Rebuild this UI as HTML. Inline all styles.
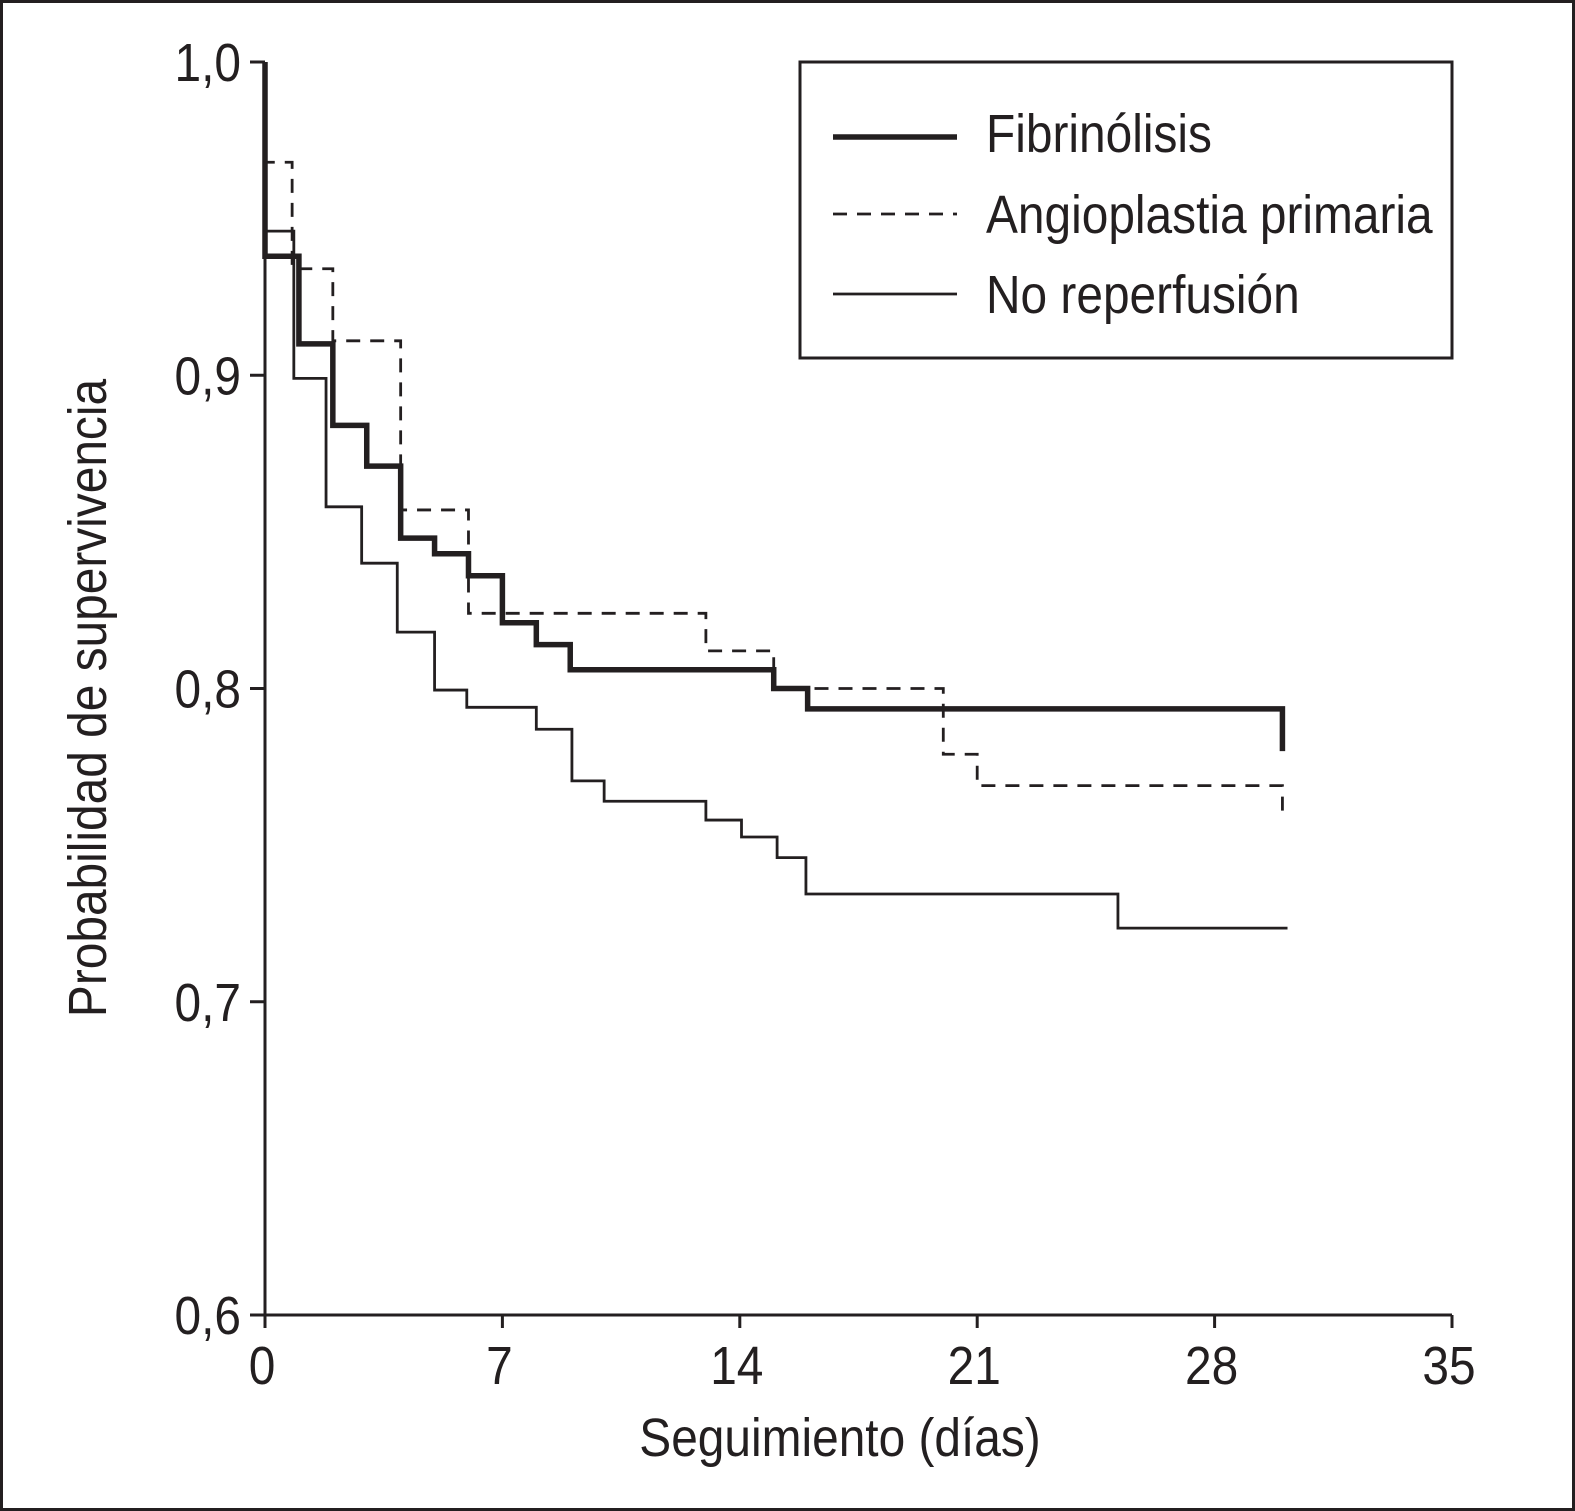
<!DOCTYPE html>
<html><head><meta charset="utf-8"><style>
html,body{margin:0;padding:0;background:#fff}
svg{display:block}
text{font-family:"Liberation Sans",sans-serif;fill:#231f20}
</style></head><body>
<svg id="chart" width="1575" height="1511" viewBox="0 0 1575 1511" xmlns="http://www.w3.org/2000/svg">
<rect x="1.5" y="1.5" width="1572" height="1508" fill="#fff" stroke="#231f20" stroke-width="3"/>
<g id="axes"></g>
<g id="series"></g>
<g>
<rect x="800" y="62" width="652" height="296" fill="#fff" stroke="#231f20" stroke-width="3"/>
<line x1="833" y1="137" x2="957" y2="137" stroke="#231f20" stroke-width="5.5"/>
<line x1="833" y1="214" x2="957" y2="214" stroke="#231f20" stroke-width="2.8" stroke-dasharray="14,10"/>
<line x1="833" y1="294" x2="957" y2="294" stroke="#231f20" stroke-width="2.8"/>
<text transform="translate(986,152) scale(0.886,1)" font-size="54">Fibrinólisis</text>
<text transform="translate(986,233) scale(0.886,1)" font-size="54">Angioplastia primaria</text>
<text transform="translate(986,313) scale(0.886,1)" font-size="54">No reperfusión</text>
</g>
<text transform="translate(840,1456) scale(0.886,1)" font-size="54" text-anchor="middle">Seguimiento (días)</text>
<text transform="translate(106,698) rotate(-90) scale(0.886,1)" font-size="54" text-anchor="middle">Probabilidad de supervivencia</text>
</svg>
<script>
const xTicks = [0, 7, 14, 21, 28, 35];
const yTicks = [0.6, 0.7, 0.8, 0.9, 1.0];
const yTickLabels = ["0,6", "0,7", "0,8", "0,9", "1,0"];
const fibTimes = [0, 1, 2, 3, 4, 5, 6, 7, 8, 9, 15, 16, 30];
const fibValues = [0.938, 0.910, 0.884, 0.871, 0.848, 0.843, 0.836, 0.821, 0.814, 0.806, 0.800, 0.7935, 0.780];
const angTimes = [0, 0.8, 2, 4, 6, 13, 15, 20, 21, 30];
const angValues = [0.968, 0.934, 0.911, 0.857, 0.824, 0.812, 0.800, 0.779, 0.769, 0.760];
const noTimes = [0, 0.85, 1.8, 2.85, 3.9, 5, 5.95, 8, 9.05, 10, 13, 14.05, 15.1, 15.95, 25.15];
const noValues = [0.946, 0.899, 0.858, 0.840, 0.818, 0.7995, 0.794, 0.787, 0.7705, 0.764, 0.758, 0.7526, 0.746, 0.7344, 0.7235];
const noEnd = 30.15;

const NS = "http://www.w3.org/2000/svg";
const X0 = 265, X1 = 1452, Y0 = 1315, Y1 = 62;
function xs(d){ return X0 + (d - 0) / 35 * (X1 - X0); }
function ys(v){ return Y0 - (v - 0.6) / 0.4 * (Y0 - Y1); }
function mk(tag, attrs, parent){ const e = document.createElementNS(NS, tag); for (const k in attrs) e.setAttribute(k, attrs[k]); parent.appendChild(e); return e; }

const axes = document.getElementById('axes');
const yAxis = mk('line', {x1: X0, y1: Y1, x2: X0, y2: Y0, stroke: '#231f20', 'stroke-width': 3}, axes);


const xAxis = mk('line', {x1: X0, y1: Y0, x2: X1, y2: Y0, stroke: '#231f20', 'stroke-width': 3}, axes);


yTicks.forEach((v, i) => {
  const t = mk('line', {x1: X0 - 15, y1: ys(v), x2: X0, y2: ys(v), stroke: '#231f20', 'stroke-width': 3}, axes);
  
  
  const l = mk('text', {transform: `translate(241,${ys(v) + 19}) scale(0.886,1)`, 'font-size': 54, 'text-anchor': 'end'}, axes);
  l.textContent = yTickLabels[i];
  
  
});
xTicks.forEach(d => {
  const t = mk('line', {x1: xs(d), y1: Y0, x2: xs(d), y2: Y0 + 13, stroke: '#231f20', 'stroke-width': 3}, axes);
  
  
  const l = mk('text', {transform: `translate(${xs(d) - 3},1384) scale(0.886,1)`, 'font-size': 54, 'text-anchor': 'middle'}, axes);
  l.textContent = String(d);
  
  
});

function stepPath(times, values, endT){
  let d = `M${xs(0)},${ys(1.0)}`;
  for (let i = 0; i < times.length; i++) {
    d += ` H${xs(times[i])} V${ys(values[i])}`;
  }
  if (endT !== undefined) d += ` H${xs(endT)}`;
  return d;
}
const series = document.getElementById('series');
const pAng = mk('path', {d: stepPath(angTimes, angValues), fill: 'none', stroke: '#231f20', 'stroke-width': 2.8, 'stroke-dasharray': '14,10'}, series);


const pNo = mk('path', {d: stepPath(noTimes, noValues, noEnd), fill: 'none', stroke: '#231f20', 'stroke-width': 2.8}, series);


const pFib = mk('path', {d: stepPath(fibTimes, fibValues), fill: 'none', stroke: '#231f20', 'stroke-width': 5.5}, series);


</script>
</body></html>
